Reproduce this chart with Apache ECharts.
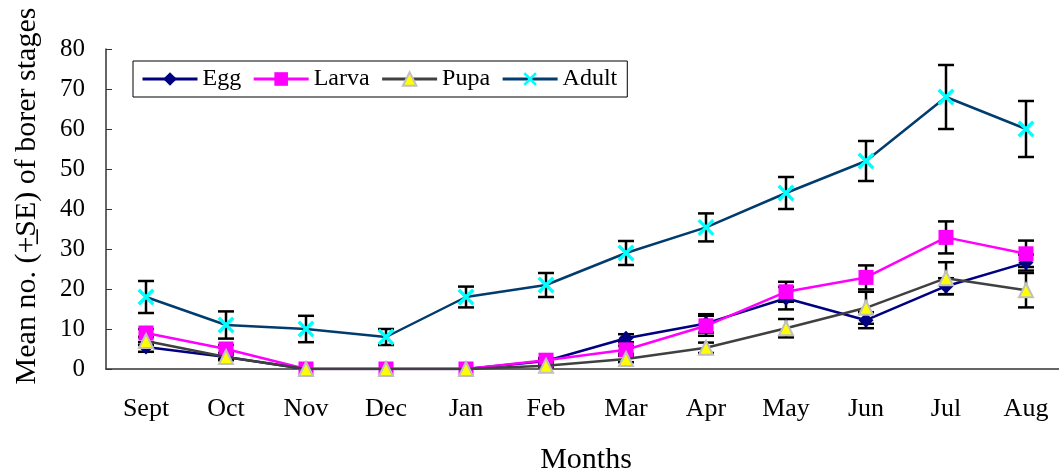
<!DOCTYPE html>
<html>
<head>
<meta charset="utf-8">
<script src="https://cdn.jsdelivr.net/npm/echarts@6/dist/echarts.min.js"></script>
<style>
  html, body { margin: 0; padding: 0; background: #fff; }
  #chart { width: 1059px; height: 473px; }
</style>
</head>
<body>
<div id="chart"></div>
<script>
  // categories and values
  var months = ['Sept', 'Oct', 'Nov', 'Dec', 'Jan', 'Feb', 'Mar', 'Apr', 'May', 'Jun', 'Jul', 'Aug'];

  var egg = [5.5, 3, 0, 0, 0, 2, 7.7, 11.4, 17.7, 12.2, 20.7, 26.6];
  var eggSE = [1.2, 0.8, 0, 0, 0, 0.5, 1, 2.3, 2.8, 2, 2, 2];

  var larva = [9, 5, 0, 0, 0, 2.2, 4.8, 10.8, 19.3, 22.9, 32.9, 28.8];
  var larvaSE = [1, 1, 0, 0, 0, 0.5, 1, 2.5, 2.5, 3, 4, 3.3];

  var pupa = [7, 3, 0, 0, 0, 0.8, 2.5, 5.3, 10.2, 15.3, 22.7, 19.7];
  var pupaSE = [1, 0.5, 0, 0, 0, 0.3, 0.8, 1.3, 2.3, 4, 4, 4.3];

  var adult = [18, 11, 10, 8, 18, 21, 29, 35.4, 44, 52, 68, 60];
  var adultSE = [4, 3.4, 3.3, 2, 2.6, 3, 3, 3.5, 4, 5, 8, 7];

  var yTicks = [0, 10, 20, 30, 40, 50, 60, 70, 80];

  var FONT = '"Liberation Serif", "Times New Roman", serif';
  var crossPath = 'path://M0,1.4L1.4,0L5,3.6L8.6,0L10,1.4L6.4,5L10,8.6L8.6,10L5,6.4L1.4,10L0,8.6L3.6,5Z';

  // [index, low, high] for every mean that has an error
  function errData(mean, se) {
    var out = [];
    mean.forEach(function (m, i) {
      if (se[i] > 0) out.push([i, m - se[i], m + se[i]]);
    });
    return out;
  }
  var errRows = []
    .concat(errData(egg, eggSE))
    .concat(errData(larva, larvaSE))
    .concat(errData(pupa, pupaSE))
    .concat(errData(adult, adultSE));

  function renderErr(params, api) {
    var lo = api.coord([api.value(0), api.value(1)]);
    var hi = api.coord([api.value(0), api.value(2)]);
    var w = 8;
    var st = { stroke: '#000', lineWidth: 2.5 };
    return {
      type: 'group',
      children: [
        { type: 'line', shape: { x1: lo[0], y1: lo[1], x2: hi[0], y2: hi[1] }, style: st },
        { type: 'line', shape: { x1: lo[0] - w, y1: lo[1], x2: lo[0] + w, y2: lo[1] }, style: st },
        { type: 'line', shape: { x1: hi[0] - w, y1: hi[1], x2: hi[0] + w, y2: hi[1] }, style: st }
      ]
    };
  }

  var myChart = echarts.init(document.getElementById('chart'));
  var option = {
    animation: false,
    textStyle: { fontFamily: FONT, color: '#000' },
    grid: { left: 106, top: 49, width: 960, height: 320, containLabel: false, outerBoundsMode: 'none' },
    legend: {
      data: ['Egg', 'Larva', 'Pupa', 'Adult'],
      left: 133,
      top: 61,
      orient: 'horizontal',
      itemWidth: 55,
      itemHeight: 17,
      itemGap: 11,
      padding: [6, 10, 6, 8],
      borderColor: '#000',
      borderWidth: 1,
      borderRadius: 0,
      lineStyle: { width: 3 },
      textStyle: { fontFamily: FONT, fontSize: 24, color: '#000' }
    },
    graphic: [{
      type: 'text',
      x: 27,
      y: 196,
      rotation: Math.PI / 2,
      style: {
        text: 'Mean no. (+\u0332SE) of borer stages',
        font: '30px ' + FONT,
        fill: '#000',
        textAlign: 'center',
        textVerticalAlign: 'middle'
      }
    }],
    xAxis: {
      type: 'category',
      data: months,
      boundaryGap: true,
      name: 'Months',
      nameLocation: 'middle',
      nameGap: 76,
      nameTextStyle: { fontFamily: FONT, fontSize: 30, color: '#000' },
      axisLine: { lineStyle: { color: '#333', width: 1.5 } },
      axisTick: { inside: true, length: 6, lineStyle: { color: '#333' } },
      axisLabel: { fontFamily: FONT, fontSize: 26, color: '#000', margin: 27 },
      splitLine: { show: false }
    },
    yAxis: {
      type: 'value',
      min: yTicks[0],
      max: yTicks[yTicks.length - 1],
      interval: 10,
      axisLine: { show: true, lineStyle: { color: '#333', width: 1.5 } },
      axisTick: { show: true, inside: true, length: 6, lineStyle: { color: '#333' } },
      axisLabel: { fontFamily: FONT, fontSize: 25, color: '#000', margin: 21 },
      splitLine: { show: false }
    },
    series: [
      {
        name: 'SE',
        type: 'custom',
        renderItem: renderErr,
        data: errRows,
        z: 1,
        silent: true
      },
      {
        name: 'Egg',
        type: 'line',
        data: egg,
        symbol: 'diamond',
        symbolSize: 15,
        lineStyle: { color: '#000080', width: 2.5 },
        itemStyle: { color: '#000080' },
        z: 3
      },
      {
        name: 'Larva',
        type: 'line',
        data: larva,
        symbol: 'rect',
        symbolSize: 15,
        lineStyle: { color: '#ff00ff', width: 2.5 },
        itemStyle: { color: '#ff00ff' },
        z: 4
      },
      {
        name: 'Pupa',
        type: 'line',
        data: pupa,
        symbol: 'triangle',
        symbolSize: 14,
        lineStyle: { color: '#404040', width: 2.5 },
        itemStyle: { color: '#ffff00', borderColor: '#c0c0c0', borderWidth: 2 },
        z: 5
      },
      {
        name: 'Adult',
        type: 'line',
        data: adult,
        symbol: crossPath,
        symbolSize: 17,
        lineStyle: { color: '#003c6e', width: 2.5 },
        itemStyle: { color: '#00ffff' },
        z: 6
      }
    ]
  };
  myChart.setOption(option);
</script>
</body>
</html>
